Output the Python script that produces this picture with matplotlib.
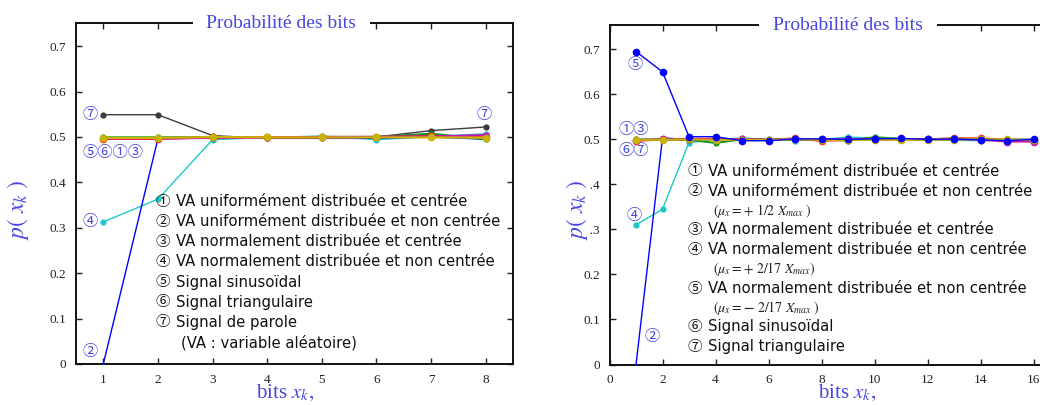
import matplotlib
matplotlib.use("Agg")
import matplotlib.pyplot as plt

# ---------------------------------------------------------------- data
bits_left = [1, 2, 3, 4, 5, 6, 7, 8]
left_uniform_c = [0.496, 0.496, 0.499, 0.499, 0.500, 0.500, 0.502, 0.499]
left_uniform_nc = [0.000, 0.496, 0.498, 0.497, 0.497, 0.497, 0.500, 0.495]
left_normal_c = [0.499, 0.499, 0.500, 0.498, 0.500, 0.500, 0.507, 0.495]
left_normal_nc = [0.313, 0.363, 0.494, 0.499, 0.502, 0.494, 0.501, 0.507]
left_sinus = [0.497, 0.497, 0.498, 0.498, 0.499, 0.500, 0.501, 0.504]
left_triangle = [0.498, 0.498, 0.500, 0.499, 0.499, 0.499, 0.499, 0.4985]
left_speech = [0.549, 0.549, 0.503, 0.497, 0.497, 0.500, 0.514, 0.522]

bits_right = list(range(1, 17))
right_uniform_c = [0.497, 0.500, 0.501, 0.501, 0.500, 0.499, 0.502, 0.497,
                   0.499, 0.501, 0.500, 0.500, 0.502, 0.502, 0.499, 0.497]
right_uniform_nc = [0.000, 0.503, 0.500, 0.500, 0.500, 0.500, 0.500, 0.500,
                    0.500, 0.500, 0.500, 0.500, 0.500, 0.500, 0.500, 0.500]
right_normal_c = [0.500, 0.500, 0.499, 0.492, 0.500, 0.499, 0.500, 0.500,
                  0.497, 0.505, 0.501, 0.500, 0.502, 0.500, 0.499, 0.498]
right_normal_pos = [0.310, 0.345, 0.493, 0.499, 0.503, 0.500, 0.497, 0.500,
                    0.505, 0.503, 0.502, 0.499, 0.498, 0.497, 0.499, 0.500]
right_normal_neg = [0.695, 0.650, 0.506, 0.506, 0.497, 0.497, 0.501, 0.501,
                    0.500, 0.501, 0.502, 0.500, 0.500, 0.499, 0.497, 0.500]
right_sinus = [0.499, 0.500, 0.500, 0.500, 0.500, 0.499, 0.500, 0.500,
               0.500, 0.500, 0.500, 0.500, 0.501, 0.499, 0.495, 0.495]
right_triangle = [0.499, 0.499, 0.500, 0.499, 0.499, 0.499, 0.500, 0.499,
                  0.498, 0.499, 0.499, 0.499, 0.499, 0.500, 0.500, 0.499]

yticks = [0, 0.1, 0.2, 0.3, 0.4, 0.5, 0.6, 0.7]
yticklabels = ["0", "0.1", "0.2", "0.3", "0.4", "0.5", "0.6", "0.7"]
right_xticks = [0, 2, 4, 6, 8, 10, 12, 14, 16, 18]

legend_left = [
    ("①", "VA uniformément distribuée et centrée"),
    ("②", "VA uniformément distribuée et non centrée"),
    ("③", "VA normalement distribuée et centrée"),
    ("④", "VA normalement distribuée et non centrée"),
    ("⑤", "Signal sinusoïdal"),
    ("⑥", "Signal triangulaire"),
    ("⑦", "Signal de parole"),
]
legend_left_note = "(VA : variable aléatoire)"

legend_right = [
    ("①", "VA uniformément distribuée et centrée", None),
    ("②", "VA uniformément distribuée et non centrée",
     r"$(\mu_x = +\ 1/2\ X_{max}\ )$"),
    ("③", "VA normalement distribuée et centrée", None),
    ("④", "VA normalement distribuée et non centrée",
     r"$(\mu_x = +\ 2/17\ X_{max})$"),
    ("⑤", "VA normalement distribuée et non centrée",
     r"$(\mu_x = \mathbf{-}\ 2/17\ X_{max}\ )$"),
    ("⑥", "Signal sinusoïdal", None),
    ("⑦", "Signal triangulaire", None),
]

# ---------------------------------------------------------------- style
BLUE_TXT = "#4646e0"
C_BLUE = "#0000ff"
C_CYAN = "#1ec8c8"
C_GREEN = "#14961e"
C_RED = "#ff1e1e"
C_MAG = "#c814b4"
C_OLIVE = "#c8b400"
C_GRAY = "#3c3c3c"
SERIF = ["Liberation Serif", "DejaVu Serif"]
CIRC = ["Noto Sans CJK JP", "DejaVu Sans"]
LEG_FS = 10.75

W, H = 1040, 405
fig = plt.figure(figsize=(W / 100, H / 100), dpi=100)


def fx(px):
    return px / W


def fy(py):
    return 1 - py / H


def style_axes(ax):
    for s in ax.spines.values():
        s.set_linewidth(1.4)
        s.set_color("#111111")
    ax.tick_params(direction="in", top=True, right=True, length=4,
                   width=1, labelsize=9.5, colors="#222222", pad=7)
    for lab in ax.get_xticklabels() + ax.get_yticklabels():
        lab.set_fontfamily(SERIF)


def panel_labels(ax, title, title_xc, label_x, xlabel_xc):
    ax.text(title_xc, 1.0, title, transform=ax.transAxes, ha="center",
            va="center", fontsize=14, color=BLUE_TXT, family=SERIF,
            zorder=10, clip_on=False,
            bbox=dict(boxstyle="square,pad=0.7", fc="white", ec="none"))
    fig.text(fx(label_x), fy(210), r"$p(\ x_{k}\ )$", rotation=90,
             ha="center", va="center", fontsize=17, color=BLUE_TXT,
             math_fontfamily="stix", zorder=10,
             bbox=dict(boxstyle="square,pad=0.0", fc="white", ec="none"))
    fig.text(fx(xlabel_xc), fy(393), r"bits $x_{k},$", ha="center",
             va="center", fontsize=15, color=BLUE_TXT, family=SERIF,
             math_fontfamily="stix")


def draw(ax, x, y, color, ms=4.5, lw=1.0, marker="o", z=2):
    ax.plot(x, y, color=color, lw=lw, marker=marker, ms=ms,
            markeredgewidth=0, zorder=z)


# ---------------------------------------------------------------- left panel
axL = fig.add_axes([fx(76), fy(364), fx(513 - 76), (364 - 23) / H])
draw(axL, bits_left, left_speech, C_GRAY, z=2)
draw(axL, bits_left, left_normal_nc, C_CYAN, z=3)
draw(axL, bits_left, left_uniform_nc, C_BLUE, ms=3.5, marker="^", z=3)
draw(axL, bits_left, left_normal_c, C_GREEN, lw=1.6, z=4)
draw(axL, bits_left, left_uniform_c, C_RED, lw=1.6, ms=5.5, z=4)
draw(axL, bits_left, left_sinus, C_MAG, lw=1.6, z=5)
draw(axL, bits_left, left_triangle, C_OLIVE, lw=1.6, ms=5.5, z=6)
axL.set_xlim(0.5, 8.5)
axL.set_ylim(0, 0.751)
axL.set_xticks(bits_left)
axL.set_yticks(yticks)
axL.set_yticklabels(yticklabels)
style_axes(axL)
panel_labels(axL, "Probabilité des bits", 0.47, 18, 285)

ann_kw = dict(color=BLUE_TXT, family=CIRC, fontsize=11, ha="center",
              va="center")
axL.text(0.756, left_speech[0], "⑦", **ann_kw)
axL.text(7.98, left_speech[0], "⑦", **ann_kw)
axL.text(1.18, 0.465, "⑤⑥①③", **ann_kw)
axL.text(0.756, left_normal_nc[0], "④", **ann_kw)
axL.text(0.756, 0.028, "②", **ann_kw)

row_y = 202
for num, txt in legend_left:
    fig.text(fx(163), fy(row_y), num, family=CIRC, fontsize=10.5,
             ha="center", va="center", color="#111111")
    fig.text(fx(176), fy(row_y), txt, family="DejaVu Sans", fontsize=LEG_FS,
             ha="left", va="center", color="#111111")
    row_y += 20
fig.text(fx(181), fy(row_y + 1), legend_left_note, family="DejaVu Sans",
         fontsize=LEG_FS, ha="left", va="center", color="#111111")

# ---------------------------------------------------------------- right panel
axR = fig.add_axes([fx(609.5), fy(364.5), fx(18 * 26.5), (364.5 - 25) / H])
draw(axR, bits_right, right_normal_pos, C_CYAN, z=3)
draw(axR, bits_right, right_uniform_nc, C_BLUE, ms=3.5, marker="^", z=3)
draw(axR, bits_right, right_uniform_c, C_RED, lw=1.6, ms=5.5, z=4)
draw(axR, bits_right, right_normal_c, C_GREEN, lw=1.4, z=4)
draw(axR, bits_right, right_sinus, C_MAG, lw=1.4, ms=5.5, z=5)
draw(axR, bits_right, right_triangle, C_OLIVE, lw=1.4, ms=5.5, z=6)
draw(axR, bits_right, right_normal_neg, C_BLUE, ms=5.5, z=7)
axR.set_xlim(0, 18)
axR.set_ylim(0, 0.754)
axR.set_xticks(right_xticks)
axR.set_yticks(yticks)
axR.set_yticklabels(yticklabels)
style_axes(axR)
panel_labels(axR, "Probabilité des bits", 0.5, 577, 847)

axR.text(0.98, 0.666, "⑤", **ann_kw)
axR.text(0.9, 0.523, "①③", **ann_kw)
axR.text(0.9, 0.475, "⑥⑦", **ann_kw)
axR.text(0.94, right_normal_pos[0] + 0.022, "④", **ann_kw)
axR.text(1.61, 0.062, "②", **ann_kw)

row_y = 171.5
for num, txt, sub in legend_right:
    fig.text(fx(695), fy(row_y), num, family=CIRC, fontsize=10.5,
             ha="center", va="center", color="#111111")
    fig.text(fx(708), fy(row_y), txt, family="DejaVu Sans", fontsize=LEG_FS,
             ha="left", va="center", color="#111111")
    row_y += 20
    if sub:
        fig.text(fx(713), fy(row_y - 0.5), sub, fontsize=10,
                 math_fontfamily="stix", ha="left", va="center",
                 color="#222222")
        row_y += 18.5

fig.savefig("out.png", dpi=100, facecolor="white")
